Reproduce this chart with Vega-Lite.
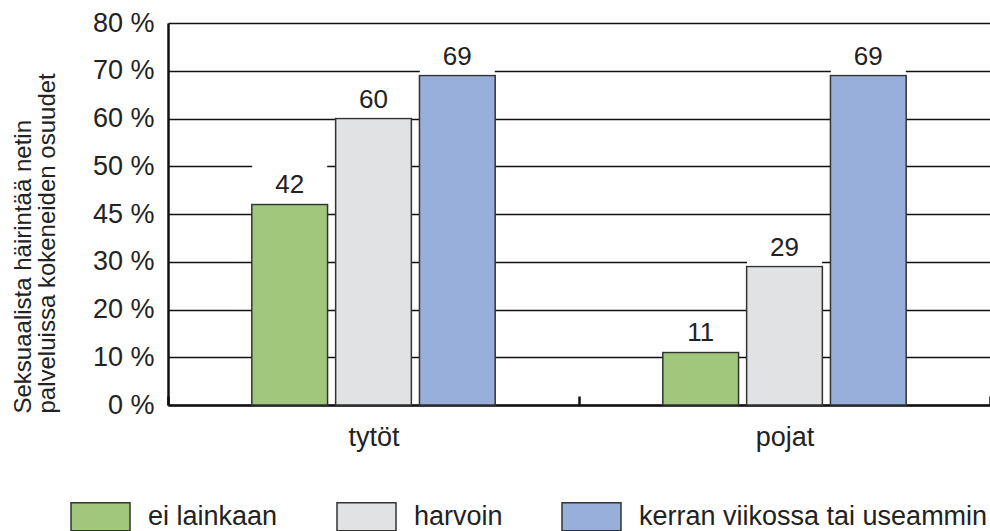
{
  "$schema": "https://vega.github.io/schema/vega-lite/v6.json",
  "width": 822,
  "height": 382,
  "autosize": "none",
  "padding": {"left": 168, "top": 23, "right": 0, "bottom": 126},
  "background": "white",
  "config": {"view": {"stroke": null}, "font": "Liberation Sans"},
  "data": {
    "values": [
      {"ryhma": "tytöt", "luokka": "ei lainkaan", "arvo": 42},
      {"ryhma": "tytöt", "luokka": "harvoin", "arvo": 60},
      {"ryhma": "tytöt", "luokka": "kerran viikossa tai useammin", "arvo": 69},
      {"ryhma": "pojat", "luokka": "ei lainkaan", "arvo": 11},
      {"ryhma": "pojat", "luokka": "harvoin", "arvo": 29},
      {"ryhma": "pojat", "luokka": "kerran viikossa tai useammin", "arvo": 69}
    ]
  },
  "encoding": {
    "x": {
      "field": "ryhma",
      "type": "nominal",
      "sort": ["tytöt", "pojat"],
      "scale": {"paddingInner": 0, "paddingOuter": 0},
      "axis": {
        "title": null,
        "labelAngle": 0,
        "labelFontSize": 27,
        "labelColor": "#222",
        "labelPadding": 28,
        "domainColor": "#111",
        "domainWidth": 2.5,
        "tickBand": "extent",
        "ticks": true,
        "tickSize": -9,
        "tickColor": "#111",
        "tickWidth": 2.5
      }
    },
    "xOffset": {
      "field": "luokka",
      "sort": ["ei lainkaan", "harvoin", "kerran viikossa tai useammin"],
      "scale": {"paddingInner": 0.0964, "paddingOuter": 1.024}
    },
    "y": {
      "field": "arvo",
      "type": "quantitative",
      "scale": {"domain": [0, 80]},
      "axis": {
        "values": [0, 10, 20, 30, 40, 50, 60, 70, 80],
        "labelExpr": "datum.value == 40 ? '45 %' : datum.value + ' %'",
        "labelFontSize": 27,
        "labelColor": "#222",
        "labelPadding": 14,
        "ticks": false,
        "domainColor": "#111",
        "domainWidth": 2.5,
        "grid": true,
        "gridColor": "#111",
        "gridWidth": 1.3,
        "gridOpacity": 1,
        "title": ["Seksuaalista häirintää netin", "palveluissa kokeneiden osuudet"],
        "titleFontSize": 24,
        "titleFontWeight": "normal",
        "titleColor": "#222",
        "titleAngle": -90,
        "titleAlign": "left",
        "titleBaseline": "top",
        "titleLineHeight": 24,
        "titleX": -157,
        "titleY": 390
      }
    }
  },
  "layer": [
    {
      "mark": {"type": "bar", "stroke": "#333", "strokeWidth": 1.5},
      "encoding": {
        "color": {
          "field": "luokka",
          "type": "nominal",
          "sort": ["ei lainkaan", "harvoin", "kerran viikossa tai useammin"],
          "scale": {
            "domain": ["ei lainkaan", "harvoin", "kerran viikossa tai useammin"],
            "range": ["#a1c77c", "#e1e2e3", "#97afda"]
          },
          "legend": {
            "orient": "none",
            "legendX": -98,
            "legendY": 463,
            "direction": "horizontal",
            "title": null,
            "symbolType": "M-1,-0.475H1V0.475H-1Z",
            "symbolSize": 3481,
            "symbolStrokeColor": "#333",
            "symbolStrokeWidth": 1.5,
            "symbolOpacity": 1,
            "labelFontSize": 27,
            "labelColor": "#222",
            "labelLimit": 500,
            "labelOffset": 17,
            "columnPadding": 56,
            "padding": 0
          }
        }
      }
    },
    {
      "mark": {
        "type": "point",
        "shape": "M-1,-1.07H1V-0.03H-1Z",
        "size": 5625,
        "filled": true,
        "color": "white",
        "opacity": 1,
        "strokeWidth": 0
      },
      "encoding": {}
    },
    {
      "mark": {
        "type": "text",
        "fontSize": 26,
        "dy": -11,
        "baseline": "alphabetic",
        "color": "#222"
      },
      "encoding": {"text": {"field": "arvo", "type": "quantitative"}}
    }
  ]
}
